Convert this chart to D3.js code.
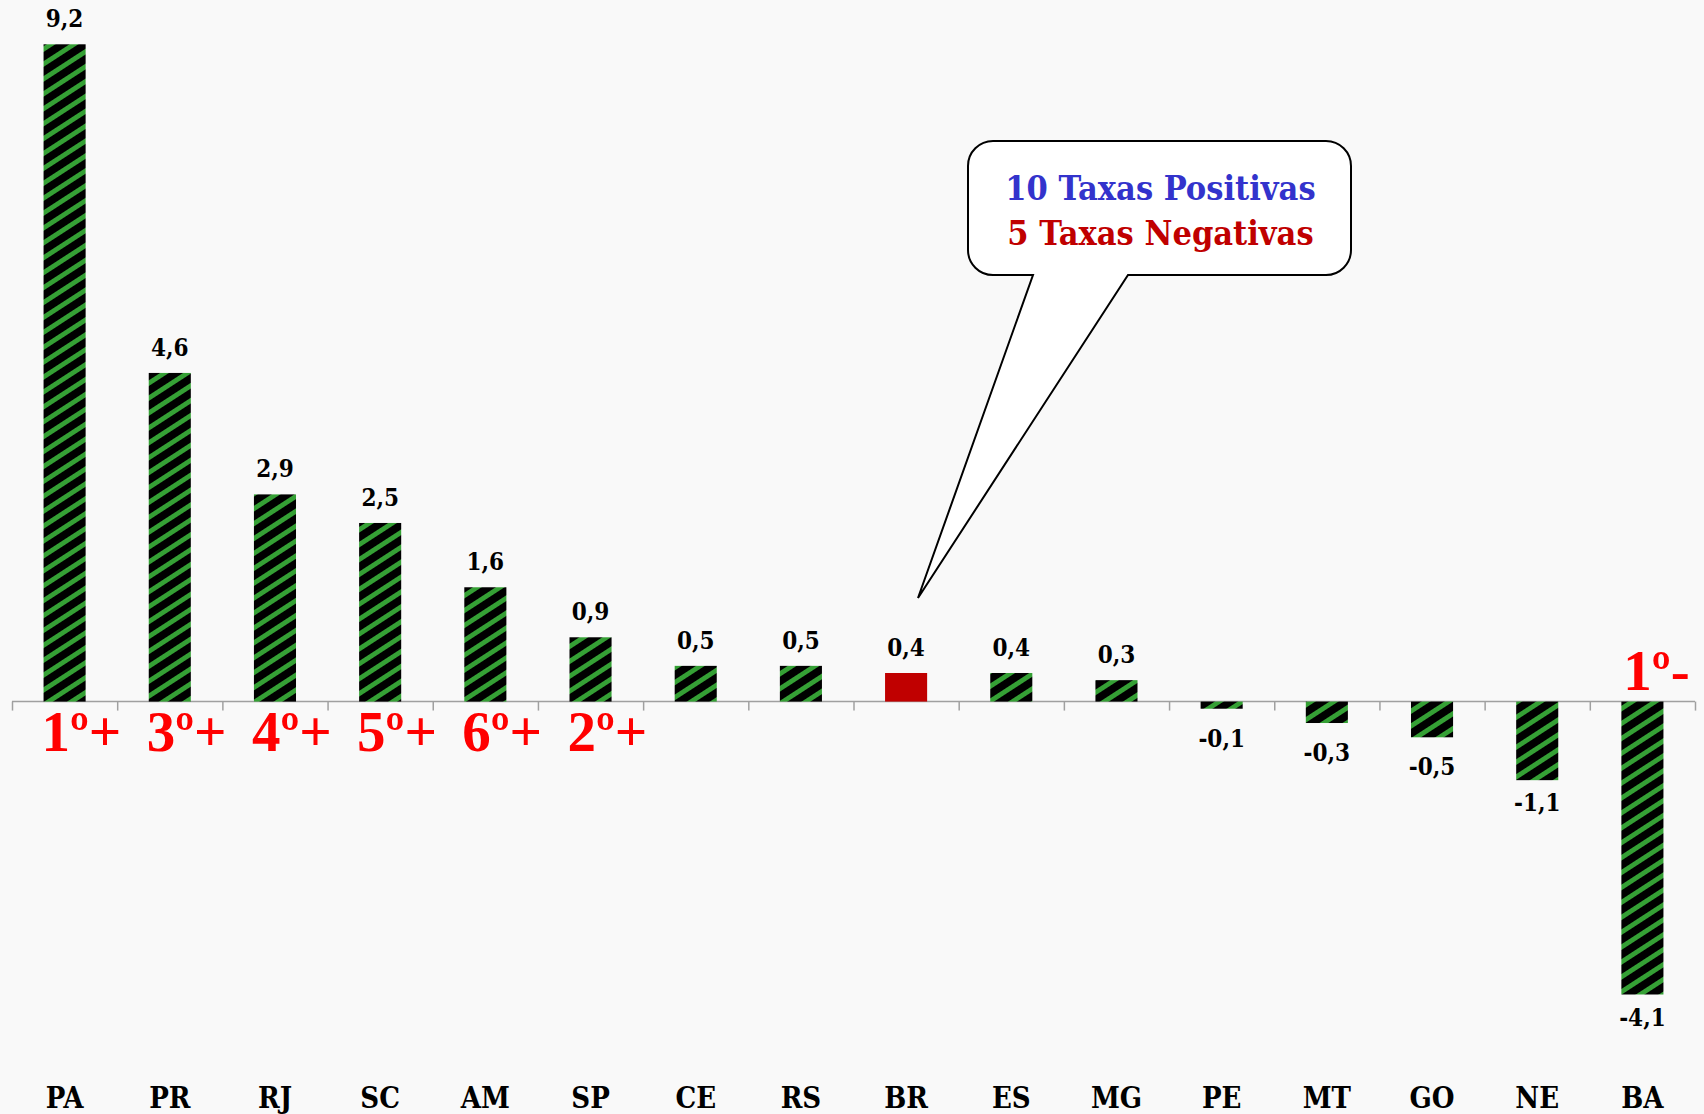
<!DOCTYPE html>
<html>
<head>
<meta charset="utf-8">
<script src="https://cdn.jsdelivr.net/npm/d3@7"></script>
<style>
  html, body { margin: 0; padding: 0; background: #f9f9f9; }
  svg { display: block; }
  .lbl { font-family: "DejaVu Serif Condensed", "DejaVu Serif", serif; font-stretch: condensed; font-weight: bold; fill: #000; }
  .rank { font-family: "Liberation Serif", "Times New Roman", serif; font-weight: bold; fill: #ff0000; }
</style>
</head>
<body>
<div class="chart"></div>
<script>
// data
const states = ["PA", "PR", "RJ", "SC", "AM", "SP", "CE", "RS", "BR", "ES", "MG", "PE", "MT", "GO", "NE", "BA"];
const rates = [9.2, 4.6, 2.9, 2.5, 1.6, 0.9, 0.5, 0.5, 0.4, 0.4, 0.3, -0.1, -0.3, -0.5, -1.1, -4.1];
const highlight = "BR";
// ranking marks written on the chart
const rankStates = ["PA", "PR", "RJ", "SC", "AM", "SP", "BA"];
const rankText = ["1º+", "3º+", "4º+", "5º+", "6º+", "2º+", "1º-"];
const calloutLines = ["10 Taxas Positivas", "5 Taxas Negativas"];

const W = 1704, H = 1114;

const svg = d3.select(".chart").append("svg")
    .attr("width", W)
    .attr("height", H);

// diagonal stripes: black ground, green lines
const defs = svg.append("defs");
const pat = defs.append("pattern")
    .attr("id", "stripes")
    .attr("patternUnits", "userSpaceOnUse")
    .attr("width", 12.5)
    .attr("height", 12.5)
    .attr("patternTransform", "rotate(-33)");
pat.append("rect").attr("width", 12.5).attr("height", 12.5).attr("fill", "#000");
pat.append("rect").attr("y", 0).attr("width", 12.5).attr("height", 4.8).attr("fill", "#35a035");

// scales
const x = d3.scaleBand()
    .domain(states)
    .range([12, 1695])
    .paddingInner(0.6)
    .paddingOuter(0.3);

const y = d3.scaleLinear()
    .domain([-4.1, 9.2])
    .range([994.5, 44.3]);

const y0 = y(0);

// category boundary ticks along the zero line
const xEdges = d3.scaleLinear().domain([0, states.length]).range([12, 1695]);
const zeroAxis = svg.append("g")
    .attr("transform", "translate(0," + y0 + ")")
    .call(d3.axisBottom(xEdges).ticks(states.length).tickSize(9).tickFormat(""));
zeroAxis.select(".domain").attr("stroke", "#a0a0a0").attr("stroke-width", 1.5).attr("d", "M12,0H1695");
zeroAxis.selectAll(".tick line").attr("stroke", "#a0a0a0").attr("stroke-width", 1.5);

// bars
svg.append("g").selectAll("rect")
    .data(states)
    .enter()
    .append("rect")
        .attr("x", d => x(d))
        .attr("width", x.bandwidth())
        .attr("y", (d, i) => Math.min(y(rates[i]), y0))
        .attr("height", (d, i) => Math.abs(y(rates[i]) - y0))
        .attr("fill", d => d === highlight ? "#c00000" : "url(#stripes)");

// value labels
const fmt = v => d3.format(".1f")(v).replace(".", ",").replace("−", "-");
svg.append("g").selectAll("text")
    .data(states)
    .enter()
    .append("text")
        .attr("class", "lbl")
        .attr("text-anchor", "middle")
        .attr("font-size", 24)
        .attr("x", d => x(d) + x.bandwidth() / 2)
        .attr("y", (d, i) => {
            const v = rates[i];
            if (v >= 0) return y(v) - 17;
            return y(v) + (v > -1 ? 38 : 31);
        })
        .text((d, i) => fmt(rates[i]));

// category labels along the bottom
svg.append("g")
    .attr("transform", "translate(0,1108)")
    .call(d3.axisBottom(x).tickSize(0).tickPadding(0))
    .call(g => g.select(".domain").remove())
    .selectAll("text")
        .attr("class", "lbl")
        .attr("font-size", 29)
        .attr("dy", 0)
        .attr("y", 0);

// ranking marks
svg.append("g").selectAll("text")
    .data(rankStates)
    .enter()
    .append("text")
        .attr("class", "rank")
        .attr("font-size", 57)
        .attr("x", (d, i) => d === "BA" ? x(d) + 2 : x(d) - 2)
        .attr("y", (d, i) => d === "BA" ? y0 - 12 : y0 + 49)
        .text((d, i) => rankText[i]);

// speech-bubble callout
const bx = 968, by = 141, bw = 383, bh = 134, r = 25;
const tipX = 918, tipY = 598, baseL = 1033, baseR = 1128;
const bubble = d3.path();
bubble.moveTo(bx + r, by);
bubble.lineTo(bx + bw - r, by);
bubble.arcTo(bx + bw, by, bx + bw, by + r, r);
bubble.lineTo(bx + bw, by + bh - r);
bubble.arcTo(bx + bw, by + bh, bx + bw - r, by + bh, r);
bubble.lineTo(baseR, by + bh);
bubble.lineTo(tipX, tipY);
bubble.lineTo(baseL, by + bh);
bubble.lineTo(bx + r, by + bh);
bubble.arcTo(bx, by + bh, bx, by + bh - r, r);
bubble.lineTo(bx, by + r);
bubble.arcTo(bx, by, bx + r, by, r);
bubble.closePath();

svg.append("path")
    .attr("d", bubble.toString())
    .attr("fill", "#fff")
    .attr("stroke", "#000")
    .attr("stroke-width", 2);

svg.append("g").selectAll("text")
    .data(calloutLines)
    .enter()
    .append("text")
        .attr("class", "lbl")
        .attr("text-anchor", "middle")
        .attr("font-size", 34)
        .attr("x", bx + bw / 2 + 1)
        .attr("y", (d, i) => 200 + i * 45)
        .style("fill", (d, i) => i === 0 ? "#3333cc" : "#c00000")
        .text(d => d);
</script>
</body>
</html>
